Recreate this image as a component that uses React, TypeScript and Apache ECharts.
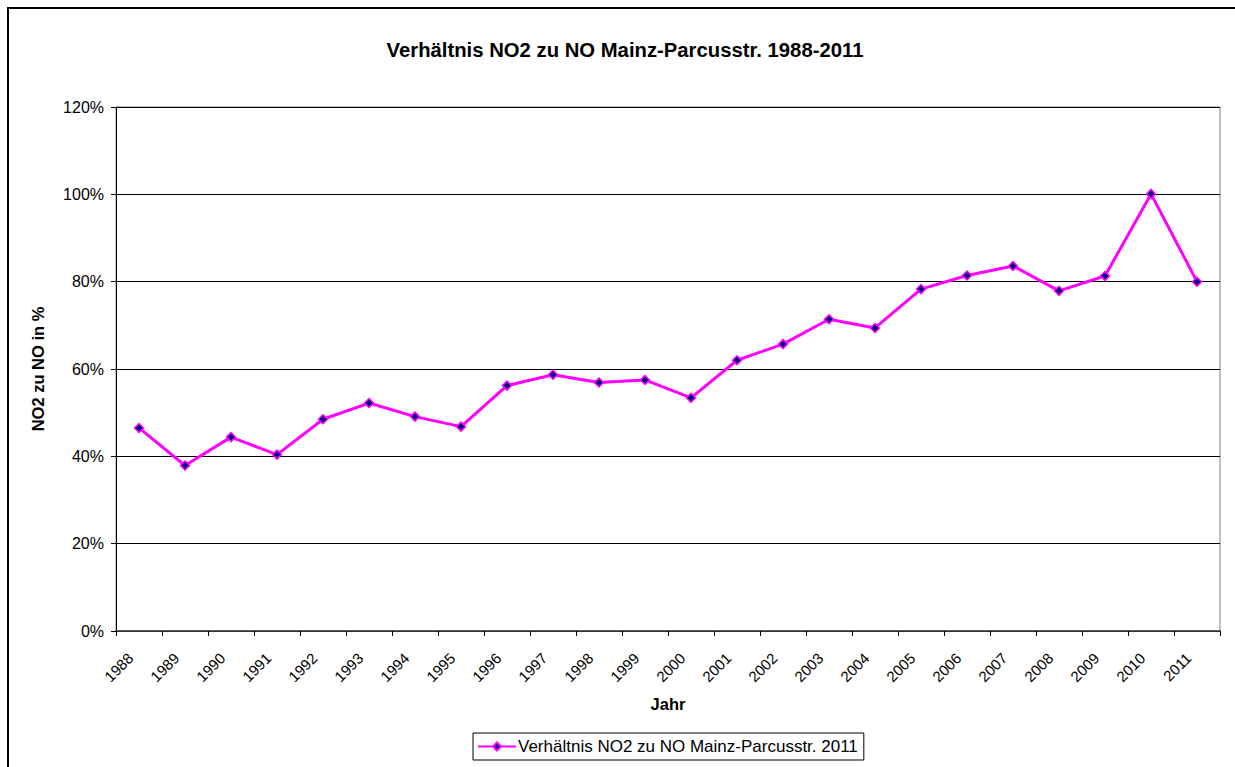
import React, { useEffect, useRef } from "react";
import * as echarts from "echarts";

const years = ["1988","1989","1990","1991","1992","1993","1994","1995","1996","1997","1998","1999","2000","2001","2002","2003","2004","2005","2006","2007","2008","2009","2010","2011"];
const ratio = [46.5,37.9,44.4,40.4,48.5,52.2,49.1,46.8,56.2,58.7,56.9,57.5,53.4,62.0,65.7,71.4,69.4,78.3,81.4,83.6,77.9,81.3,100.1,80.0];
const seriesName = "Verhältnis NO2 zu NO Mainz-Parcusstr. 2011";
const titleText = "Verhältnis NO2 zu NO Mainz-Parcusstr. 1988-2011";

export default function App() {
  const ref = useRef<HTMLDivElement>(null);
  useEffect(() => {
    const chart = echarts.init(ref.current!, null, { renderer: "svg" });
    const font = "'Liberation Sans', Arial, sans-serif";
    chart.setOption({
      animation: false,
      backgroundColor: "#ffffff",
      textStyle: { fontFamily: font },
      title: {
        text: titleText,
        left: 620,
        top: 35,
        textAlign: "center",
        textStyle: { fontFamily: font, fontSize: 20.3, fontWeight: "bold", color: "#000" },
      },
      graphic: [
        {
          type: "rect",
          shape: { x: 8, y: 8, width: 1240, height: 780 },
          style: { fill: "none", stroke: "#000", lineWidth: 2 },
          silent: true,
          z: 100,
        },
      ],
      legend: {
        data: [seriesName],
        left: 473,
        top: 733,
        itemWidth: 38,
        itemHeight: 10,
        padding: [5, 6, 5, 4],
        itemGap: 4,
        borderColor: "#000",
        borderWidth: 1,
        backgroundColor: "#fff",
        textStyle: { fontFamily: font, fontSize: 17, color: "#000", padding: [0, 0, 0, -3] },
      },
      grid: {
        left: 116,
        top: 107,
        right: 15,
        bottom: 136,
        show: true,
        borderColor: "#808080",
        borderWidth: 1,
      },
      xAxis: {
        type: "category",
        data: years,
        name: "Jahr",
        nameLocation: "middle",
        nameGap: 64,
        nameTextStyle: { fontFamily: font, fontSize: 16.5, fontWeight: "bold", color: "#000" },
        axisLine: { lineStyle: { color: "#404040", width: 1.5 } },
        axisTick: { show: true, length: 5, lineStyle: { color: "#000" } },
        axisLabel: {
          rotate: 45,
          fontFamily: font,
          fontSize: 15,
          color: "#000",
          margin: 16,
          interval: 0,
          padding: [0, 12, 0, 0],
        },
      },
      yAxis: {
        type: "value",
        min: 0,
        max: 120,
        interval: 20,
        name: "NO2 zu NO in %",
        nameLocation: "middle",
        nameGap: 70,
        nameTextStyle: { fontFamily: font, fontSize: 16.5, fontWeight: "bold", color: "#000" },
        axisLine: { show: true, lineStyle: { color: "#000", width: 1 } },
        axisTick: { show: true, length: 5, lineStyle: { color: "#000" } },
        axisLabel: { formatter: "{value}%", fontFamily: font, fontSize: 16, color: "#000", margin: 12 },
        splitLine: { show: true, lineStyle: { color: "#000", width: 1 } },
      },
      series: [
        {
          name: seriesName,
          type: "line",
          data: ratio,
          symbol: "diamond",
          symbolSize: 9,
          lineStyle: { color: "#FF00FF", width: 3 },
          itemStyle: { color: "#000080", borderColor: "#FF00FF", borderWidth: 1.5 },
        },
      ],
    });
    return () => chart.dispose();
  }, []);
  return (
    <div
      ref={ref}
      style={{ position: "absolute", left: 0, top: 0, width: 1235, height: 767 }}
    />
  );
}
